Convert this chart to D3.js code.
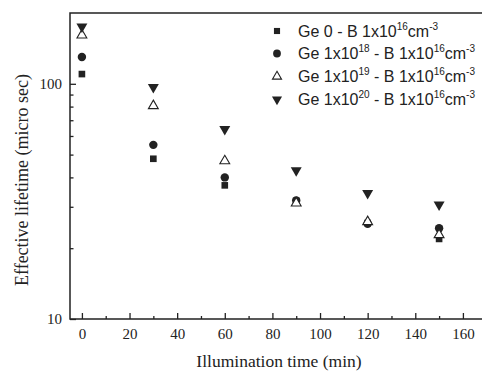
<!DOCTYPE html>
<html><head><meta charset="utf-8">
<script src="https://cdn.jsdelivr.net/npm/d3@7"></script>
<style>body{margin:0;background:#fff}svg{display:block}</style>
</head><body><svg id="c" width="482" height="371"></svg>
<script>
const times = [0, 30, 60, 90, 120, 150];
const seriesNames = ["Ge 0", "Ge 1x10^18", "Ge 1x10^19", "Ge 1x10^20"];
const ge0 = [110, 48, 37, 31.8, 25.6, 21.9];
const ge18 = [130, 55, 40, 31.9, 25.4, 24.3];
const ge19 = [161, 80.6, 47, 31.1, 25.9, 22.8];
const ge20 = [175, 96.8, 64.2, 42.8, 34.3, 30.6];
const xTicks = [0, 20, 40, 60, 80, 100, 120, 140, 160];
const xMinor = [10, 30, 50, 70, 90, 110, 130, 150];
const yTicks = [10, 100];
const yMinor = [20, 30, 40, 50, 60, 70, 80, 90];

const svg = d3.select("#c");
const L = 70, T = 13, B = 319;
const x = d3.scaleLinear().domain([-5, 170]).range([L, L + 175 * 2.38125]);
const y = d3.scaleLog().domain([10, 200]).range([B, T]);
const ink = "#222";

// frame
svg.append("path").attr("d", `M${x(170)},${T}H${L}V${B}H${x(170)}`)
  .attr("fill", "none").attr("stroke", ink).attr("stroke-width", 1.5);

// x axis
const gx = svg.append("g").attr("transform", `translate(0,${B})`)
  .call(d3.axisBottom(x).tickValues(xTicks).tickSizeInner(-6).tickSizeOuter(0).tickPadding(9).tickFormat(d3.format("d")));
gx.select(".domain").remove();
gx.selectAll(".tick line").attr("stroke", ink).attr("stroke-width", 1.3);
gx.selectAll("text").attr("font-family", "Liberation Serif").attr("font-size", 15).attr("fill", ink);
svg.append("g").attr("transform", `translate(0,${B})`)
  .call(d3.axisBottom(x).tickValues(xMinor).tickSizeInner(-3).tickSizeOuter(0).tickFormat(""))
  .call(g => g.select(".domain").remove())
  .selectAll("line").attr("stroke", ink).attr("stroke-width", 1.3);

// y axis
const gy = svg.append("g").attr("transform", `translate(${L},0)`)
  .call(d3.axisLeft(y).tickValues(yTicks).tickSizeInner(-6).tickSizeOuter(0).tickPadding(8).tickFormat(d3.format("d")));
gy.select(".domain").remove();
gy.selectAll(".tick line").attr("stroke", ink).attr("stroke-width", 1.3);
gy.selectAll("text").attr("font-family", "Liberation Serif").attr("font-size", 15).attr("fill", ink);
svg.append("g").attr("transform", `translate(${L},0)`)
  .call(d3.axisLeft(y).tickValues(yMinor).tickSizeInner(-3.5).tickSizeOuter(0).tickFormat(""))
  .call(g => g.select(".domain").remove())
  .selectAll("line").attr("stroke", ink).attr("stroke-width", 1.3);

// titles
svg.append("text").attr("x", 279).attr("y", 367).attr("text-anchor", "middle")
  .attr("font-family", "Liberation Serif").attr("font-size", 17.5).attr("fill", ink)
  .text("Illumination time (min)");
svg.append("text").attr("transform", "translate(28,180) rotate(-90)").attr("text-anchor", "middle")
  .attr("font-family", "Liberation Serif").attr("font-size", 18).attr("fill", ink)
  .text("Effective lifetime (micro sec)");

// markers
const sym = [
  {type: d3.symbolSquare, size: 44, fill: ink, rot: 0},
  {type: d3.symbolCircle, size: 56, fill: ink, rot: 0},
  {type: d3.symbolTriangle, size: 42, fill: "#fff", rot: 0},
  {type: d3.symbolTriangle, size: 52, fill: ink, rot: 180}
];
const data = [ge0, ge18, ge19, ge20];
data.forEach((vals, i) => {
  const s = sym[i];
  svg.append("g").selectAll("path").data(vals).join("path")
    .attr("d", d3.symbol().type(s.type).size(s.size))
    .attr("transform", (d, j) => `translate(${x(times[j])},${y(d)}) rotate(${s.rot})`)
    .attr("fill", s.fill).attr("stroke", ink).attr("stroke-width", i === 2 ? 1.1 : 0);
});

// legend
const legY = [31, 53.5, 76.5, 99.5];
const leg = svg.append("g").attr("font-family", "Liberation Sans").attr("font-size", 16).attr("fill", ink);
seriesNames.forEach((name, i) => {
  const s = sym[i];
  leg.append("path").attr("d", d3.symbol().type(s.type).size(s.size * 0.85))
    .attr("transform", `translate(277,${legY[i]}) rotate(${s.rot})`)
    .attr("fill", s.fill).attr("stroke", ink).attr("stroke-width", i === 2 ? 1.1 : 0);
  const t = leg.append("text").attr("x", 298).attr("y", legY[i] + 5.5);
  const parts = name.split("^");
  t.append("tspan").text(parts[0]);
  if (parts[1]) t.append("tspan").attr("dy", -7).attr("font-size", 10).text(parts[1]);
  t.append("tspan").attr("dy", parts[1] ? 7 : 0).text(" - B 1x10");
  t.append("tspan").attr("dy", -7).attr("font-size", 10).text("16");
  t.append("tspan").attr("dy", 7).text("cm");
  t.append("tspan").attr("dy", -7).attr("font-size", 10).text("-3");
});
</script></body></html>
